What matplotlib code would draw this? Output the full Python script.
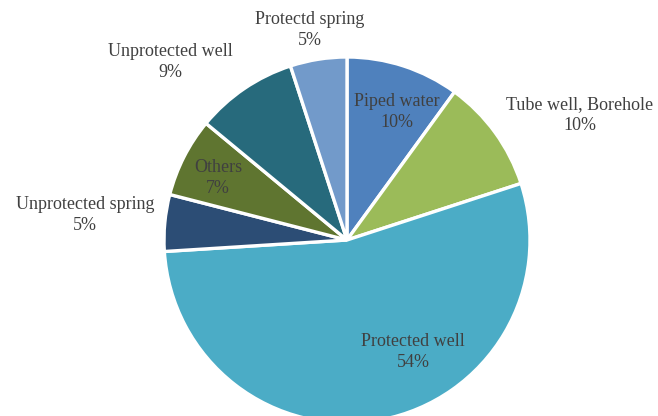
import matplotlib
matplotlib.use("Agg")
import matplotlib.pyplot as plt

labels = ["Piped water", "Tube well, Borehole", "Protected well", "Unprotected spring",
          "Others", "Unprotected well", "Protectd spring"]
values = [10, 10, 54, 5, 7, 9, 5]
colors = ["#4F81BD", "#9BBB59", "#4BACC6", "#2C4D75", "#5F7530", "#276A7C", "#729ACA"]
# label anchor positions (in pie-radius units, relative to pie centre)
label_pos = [(0.273, 0.699), (1.273, 0.683), (0.361, -0.612), (-1.432, 0.137),
             (-0.705, 0.339), (-0.967, 0.973), (-0.202, 1.148)]

fig = plt.figure(figsize=(6.58, 4.16), dpi=100)
ax = fig.add_axes([0, 0, 1, 1])
ax.pie(values, colors=colors, startangle=90, counterclock=False, radius=1,
       wedgeprops=dict(edgecolor="white", linewidth=2.4))
total = sum(values)
for lab, v, (x, y) in zip(labels, values, label_pos):
    ax.text(x, y, f"{lab}\n{round(100 * v / total)}%", ha="center", va="center",
            fontsize=13, family="Liberation Serif", color="#404040", linespacing=1.25)

R = 183.0
ax.set_xlim(-347 / R, (658 - 347) / R)
ax.set_ylim(-(416 - 240) / R, 240 / R)
ax.set_aspect("auto")
ax.axis("off")
fig.savefig("out.png", dpi=100)
